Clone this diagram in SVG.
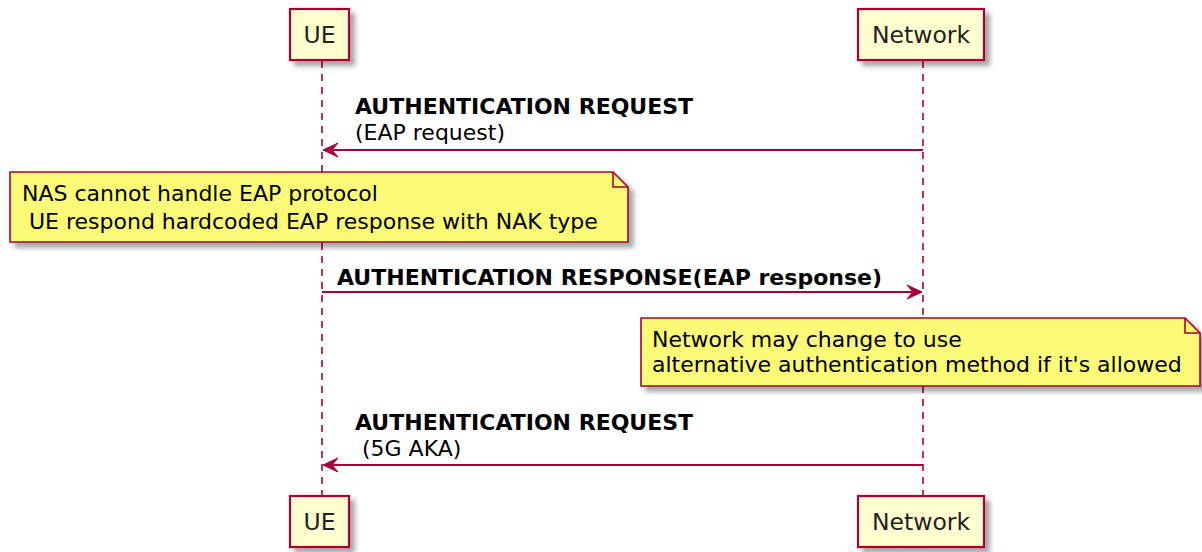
<svg xmlns="http://www.w3.org/2000/svg" width="1202" height="552" viewBox="0 0 1202 552">
  <style>
    text { font-family: "DejaVu Sans", "Liberation Sans", sans-serif; font-size: 22px; fill: #000; white-space: pre; }
    .bold { font-weight: bold; }
    .participant { fill: #FEFECE; stroke: #A80036; stroke-width: 2.2; }
    .pname { text-anchor: middle; font-size: 23.5px; fill: #222; }
    .lifeline { stroke: #A80036; stroke-width: 1.6; stroke-dasharray: 7 6; fill: none; }
    .msg { stroke: #A80036; stroke-width: 2; fill: none; }
    .head { fill: #A80036; stroke: #A80036; stroke-width: 1; }
    .note { fill: #FBFB77; stroke: #A80036; stroke-width: 1.6; }
    .fold { fill: none; stroke: #A80036; stroke-width: 1.6; }
  </style>
  <defs>
    <filter id="shadow" x="-10%" y="-10%" width="130%" height="150%">
      <feDropShadow dx="5" dy="5" stdDeviation="2.5" flood-color="#000" flood-opacity="0.35"/>
    </filter>
  </defs>

  <rect width="1202" height="552" fill="#fff"/>

  <!-- lifelines -->
  <g id="lifelines">
    <line class="lifeline" x1="322" y1="61" x2="322" y2="496"/>
    <line class="lifeline" x1="923" y1="61" x2="923" y2="496"/>
  </g>

  <!-- participants (head and foot boxes) -->
  <g id="ue-top">
    <rect class="participant" x="290" y="9" width="59" height="51" filter="url(#shadow)"/>
    <text class="pname" x="319.5" y="43">UE</text>
  </g>
  <g id="network-top">
    <rect class="participant" x="858" y="9" width="126" height="51" filter="url(#shadow)"/>
    <text class="pname" x="921" y="43">Network</text>
  </g>
  <g id="ue-bottom">
    <rect class="participant" x="290" y="496" width="59" height="51" filter="url(#shadow)"/>
    <text class="pname" x="319.5" y="530">UE</text>
  </g>
  <g id="network-bottom">
    <rect class="participant" x="858" y="496" width="126" height="51" filter="url(#shadow)"/>
    <text class="pname" x="921" y="530">Network</text>
  </g>

  <!-- messages -->
  <g id="connectors">
    <g id="msg-auth-request-eap">
      <line class="msg" x1="923" y1="150" x2="324" y2="150"/>
      <polygon class="head" points="323,150 338,143 332,150 338,157"/>
      <text class="bold" x="355" y="114">AUTHENTICATION REQUEST</text>
      <text x="355" y="140">(EAP request)</text>
    </g>
    <g id="msg-auth-response">
      <line class="msg" x1="322" y1="292" x2="921" y2="292"/>
      <polygon class="head" points="922,292 907,285 913,292 907,299"/>
      <text class="bold" x="337" y="285">AUTHENTICATION RESPONSE(EAP response)</text>
    </g>
    <g id="msg-auth-request-5g">
      <line class="msg" x1="923" y1="465" x2="324" y2="465"/>
      <polygon class="head" points="323,465 338,458 332,465 338,472"/>
      <text class="bold" x="355" y="430">AUTHENTICATION REQUEST</text>
      <text x="355" y="456"> (5G AKA)</text>
    </g>
  </g>

  <!-- notes -->
  <g id="note-nas">
    <polygon class="note" points="10,172 613,172 628,187 628,242 10,242" filter="url(#shadow)"/>
    <polyline class="fold" points="613,172 613,187 628,187"/>
    <text x="22" y="201">NAS cannot handle EAP protocol</text>
    <text x="22" y="229"> UE respond hardcoded EAP response with NAK type</text>
  </g>
  <g id="note-network">
    <polygon class="note" points="641,318 1185,318 1200,333 1200,386 641,386" filter="url(#shadow)"/>
    <polyline class="fold" points="1185,318 1185,333 1200,333"/>
    <text x="652" y="347">Network may change to use</text>
    <text x="652" y="372">alternative authentication method if it's allowed</text>
  </g>
</svg>
